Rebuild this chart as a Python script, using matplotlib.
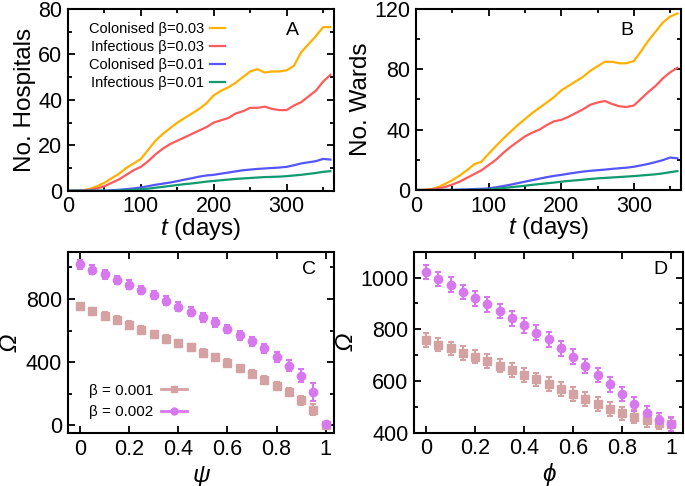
import matplotlib
matplotlib.use("Agg")
import matplotlib.pyplot as plt
from matplotlib.ticker import MultipleLocator
from matplotlib.lines import Line2D

plt.rcParams['font.family'] = ['Liberation Sans', 'DejaVu Sans']
plt.rcParams['mathtext.fontset'] = 'custom'
plt.rcParams['mathtext.rm'] = 'Liberation Sans'
plt.rcParams['mathtext.it'] = 'Liberation Sans:italic'

# tiempo (dias) cada 10 dias
t = list(range(0, 370, 10))

# panel A - hospitales
hosp_col_03 = [0, 0, 0.2, 0.8, 2, 3.5, 5.5, 7.5, 10, 12, 14, 18, 22, 25, 27.5, 30, 32, 34, 36,
               38.5, 42, 44, 45.5, 47.5, 50, 52.5, 53.5, 52, 52.5, 52.5, 53, 55, 61, 64.5, 68, 72, 72]
hosp_inf_03 = [0, 0, 0.1, 0.4, 1, 2, 3.5, 5, 7, 9, 10.5, 13, 16, 18.5, 20.5, 22, 23.5, 25, 26.5,
               28, 30, 31, 32, 34, 35, 36.5, 36.5, 37, 36, 35.5, 35.5, 37.5, 39, 41.5, 44, 48, 51]
hosp_col_01 = [0, 0, 0, 0, 0, 0, 0.2, 0.4, 0.7, 1, 1.4, 2, 2.6, 3.1, 3.6, 4.2, 4.9, 5.5, 6.2,
               6.7, 7, 7.5, 8, 8.5, 9, 9.3, 9.6, 9.8, 10, 10.2, 10.5, 11.2, 12, 12.5, 13, 14, 13.7]
hosp_inf_01 = [0, 0, 0, 0, 0, 0, 0, 0.1, 0.2, 0.4, 0.6, 0.9, 1.3, 1.7, 2.1, 2.5, 2.9, 3.2, 3.6,
               4, 4.3, 4.6, 4.9, 5.2, 5.4, 5.6, 5.8, 6, 6.1, 6.2, 6.4, 6.7, 7, 7.4, 7.8, 8.3, 8.6]

# panel B - salas
ward_col_03 = [0, 0, 0.5, 1.8, 4, 6.5, 9.5, 13, 17, 18.7, 24, 29, 34, 38.5, 43, 47, 51, 54.5, 58,
               61.5, 66, 69, 72, 75, 79, 82, 85, 85, 84, 84, 85.5, 92, 99, 105, 111, 115, 117]
ward_inf_03 = [0, 0, 0.2, 1, 2, 3.6, 5.5, 8, 10.5, 13, 16.5, 20, 24.5, 28.5, 32, 35.5, 38, 40, 43,
               45.5, 46.5, 48.5, 51, 53.5, 56.5, 58, 59, 57, 55.5, 55, 56, 60.5, 65, 69, 74, 78, 81]
ward_col_01 = [0, 0, 0, 0, 0, 0, 0.2, 0.4, 0.6, 0.8, 1, 1.8, 2.6, 3.5, 4.5, 5.5, 6.5, 7.5, 8.5,
               9.3, 10, 10.8, 11.5, 12.2, 12.7, 13.1, 13.5, 14, 14.4, 14.8, 15.4, 16.3, 17.3, 18.5, 19.8, 21.5, 21]
ward_inf_01 = [0, 0, 0, 0, 0, 0, 0, 0, 0.1, 0.2, 0.4, 0.8, 1.3, 1.8, 2.3, 2.8, 3.4, 3.9, 4.4,
               4.9, 5.5, 6, 6.4, 6.8, 7.3, 7.7, 8, 8.3, 8.6, 8.9, 9.2, 9.6, 10, 10.4, 11, 11.8, 12.5]

# paneles C y D
frac = [0, 0.05, 0.1, 0.15, 0.2, 0.25, 0.3, 0.35, 0.4, 0.45, 0.5,
        0.55, 0.6, 0.65, 0.7, 0.75, 0.8, 0.85, 0.9, 0.95, 1.0]
psi_b001 = [754, 722, 695, 668, 637, 605, 576, 549, 518, 493, 459,
            430, 397, 361, 326, 288, 251, 209, 157, 96, 0]
psi_b001_err = [22, 22, 22, 22, 22, 22, 22, 22, 22, 22, 22,
                22, 22, 22, 22, 22, 24, 25, 28, 35, 0]
psi_b002 = [1019, 987, 956, 921, 891, 856, 825, 789, 752, 720, 685,
            651, 610, 570, 532, 486, 434, 378, 313, 209, 4]
psi_b002_err = [30, 28, 28, 28, 28, 27, 27, 27, 27, 27, 28,
                28, 28, 29, 30, 31, 32, 35, 40, 55, 0]
phi_b001 = [758, 741, 726, 708, 694, 677, 659, 642, 623, 606, 588,
            569, 549, 530, 511, 491, 475, 462, 449, 439, 432]
phi_b001_err = [26] * 21
phi_b002 = [1022, 994, 973, 945, 919, 896, 870, 842, 815, 787, 761,
            726, 694, 658, 623, 587, 549, 511, 475, 449, 433]
phi_b002_err = [28] * 21

c_orange = '#FFB000'
c_red = '#FF5A5A'
c_blue = '#5555FF'
c_green = '#109A70'
c_violet = '#D878EE'
c_brown = '#D4A2A2'

fig = plt.figure(figsize=(6.85, 4.86), dpi=100)
axA = fig.add_axes([0.0993, 0.6076, 0.3883, 0.3739])
axB = fig.add_axes([0.6073, 0.6091, 0.3869, 0.3724])
axC = fig.add_axes([0.0988, 0.1091, 0.3892, 0.3730])
axD = fig.add_axes([0.6044, 0.1097, 0.3931, 0.3724])

tick_fs = 15.5
lab_fs = 17.5

for ax in [axA, axB, axC, axD]:
    ax.tick_params(which='both', direction='in', top=True, right=True, labelsize=tick_fs, width=1.3)
    ax.tick_params(which='major', length=5, pad=4)
    ax.tick_params(which='minor', length=3)
    for s in ax.spines.values():
        s.set_linewidth(1.5)

# A
axA.plot(t, hosp_col_03, color=c_orange, lw=1.6, label='Colonised β=0.03')
axA.plot(t, hosp_inf_03, color=c_red, lw=1.6, label='Infectious β=0.03')
axA.plot(t, hosp_col_01, color=c_blue, lw=1.6, label='Colonised β=0.01')
axA.plot(t, hosp_inf_01, color=c_green, lw=1.6, label='Infectious β=0.01')
axA.set_xlim(0, 365)
axA.set_ylim(0, 80)
axA.xaxis.set_major_locator(MultipleLocator(100))
axA.xaxis.set_minor_locator(MultipleLocator(50))
axA.yaxis.set_major_locator(MultipleLocator(20))
axA.yaxis.set_minor_locator(MultipleLocator(10))
axA.set_xlabel('$t$ (days)', fontsize=lab_fs, labelpad=-1)
axA.set_ylabel('No. Hospitals', fontsize=lab_fs, labelpad=2)
axA.text(0.82, 0.93, 'A', transform=axA.transAxes, fontsize=14, ha='left', va='top')
axA.legend(loc='upper left', bbox_to_anchor=(0.03, 1.0), frameon=False, markerfirst=False,
           fontsize=10.5, handlelength=1.0, handletextpad=0.4, labelspacing=0.28)

# B
axB.plot(t, ward_col_03, color=c_orange, lw=1.6)
axB.plot(t, ward_inf_03, color=c_red, lw=1.6)
axB.plot(t, ward_col_01, color=c_blue, lw=1.6)
axB.plot(t, ward_inf_01, color=c_green, lw=1.6)
axB.set_xlim(0, 365)
axB.set_ylim(0, 120)
axB.xaxis.set_major_locator(MultipleLocator(100))
axB.xaxis.set_minor_locator(MultipleLocator(50))
axB.yaxis.set_major_locator(MultipleLocator(40))
axB.yaxis.set_minor_locator(MultipleLocator(20))
axB.set_xlabel('$t$ (days)', fontsize=lab_fs, labelpad=-1)
axB.set_ylabel('No. Wards', fontsize=lab_fs, labelpad=2)
axB.text(0.77, 0.93, 'B', transform=axB.transAxes, fontsize=14, ha='left', va='top')

# C
axC.errorbar(frac, psi_b001, yerr=psi_b001_err, fmt='s', color=c_brown, ms=5.5, capsize=2,
             elinewidth=1.5, capthick=1.5)
axC.errorbar(frac, psi_b002, yerr=psi_b002_err, fmt='o', color=c_violet, ms=6, capsize=2,
             elinewidth=1.5, capthick=1.5)
axC.set_xlim(-0.05, 1.035)
axC.set_ylim(-50, 1100)
axC.yaxis.set_major_locator(MultipleLocator(400))
axC.yaxis.set_minor_locator(MultipleLocator(200))
axC.set_xticks([0, 0.2, 0.4, 0.6, 0.8, 1.0])
axC.set_xticklabels(['0', '0.2', '0.4', '0.6', '0.8', '1'])
axC.set_xlabel('ψ', fontsize=lab_fs, style='italic', labelpad=3)
axC.set_ylabel('Ω', fontsize=lab_fs, style='italic', labelpad=3)
axC.text(0.88, 0.95, 'C', transform=axC.transAxes, fontsize=14, ha='left', va='top')
leg_handles = [Line2D([], [], color=c_brown, marker='s', ms=5, lw=2),
               Line2D([], [], color=c_violet, marker='o', ms=5, lw=2)]
axC.legend(leg_handles, ['β = 0.001', 'β = 0.002'], loc='lower left',
           bbox_to_anchor=(0.03, 0.0), frameon=False, markerfirst=False,
           fontsize=11, handlelength=1.7, handletextpad=0.5, labelspacing=0.5)

# D
axD.errorbar(frac, phi_b001, yerr=phi_b001_err, fmt='s', color=c_brown, ms=5.5, capsize=2,
             elinewidth=1.5, capthick=1.5)
axD.errorbar(frac, phi_b002, yerr=phi_b002_err, fmt='o', color=c_violet, ms=6, capsize=2,
             elinewidth=1.5, capthick=1.5)
axD.set_xlim(-0.05, 1.05)
axD.set_ylim(400, 1100)
axD.yaxis.set_major_locator(MultipleLocator(200))
axD.yaxis.set_minor_locator(MultipleLocator(100))
axD.set_xticks([0, 0.2, 0.4, 0.6, 0.8, 1.0])
axD.set_xticklabels(['0', '0.2', '0.4', '0.6', '0.8', '1'])
axD.set_xlabel('ϕ', fontsize=lab_fs, style='italic', labelpad=3)
axD.set_ylabel('Ω', fontsize=lab_fs, style='italic', labelpad=2)
axD.text(0.89, 0.95, 'D', transform=axD.transAxes, fontsize=14, ha='left', va='top')

fig.savefig('out.png', dpi=100)
